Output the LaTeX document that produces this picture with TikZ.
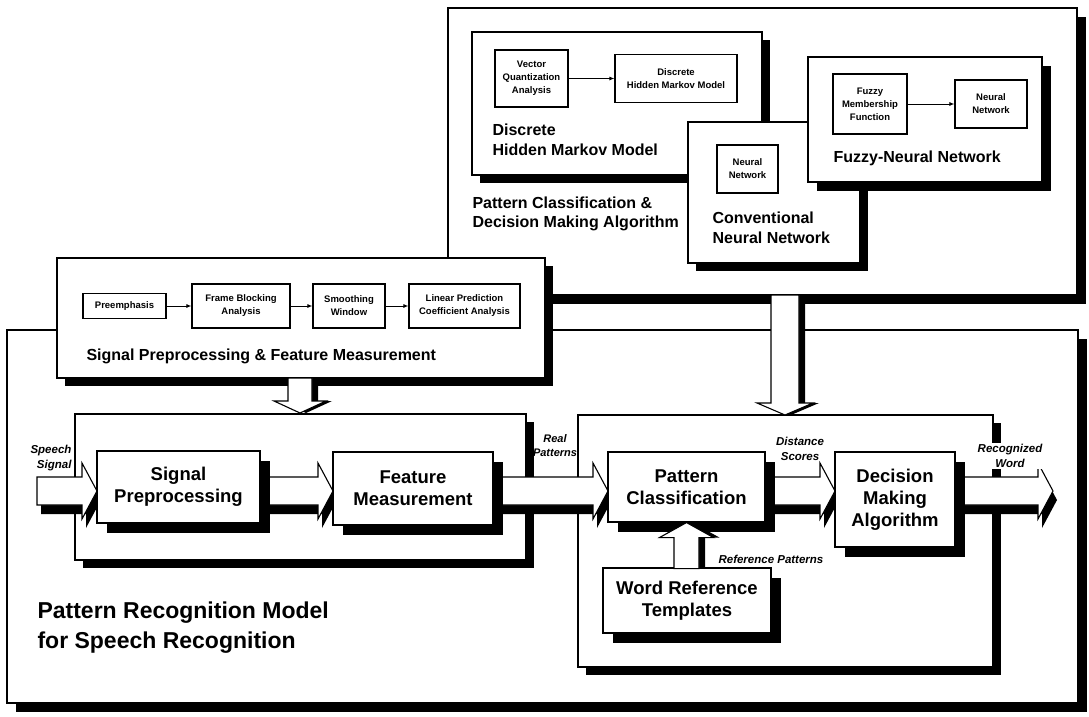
\documentclass[tikz,border=0pt]{standalone}
\usepackage{fontspec}
\setmainfont{Liberation Sans}
\usetikzlibrary{arrows.meta,shadows}

\begin{document}
\begin{tikzpicture}[x=1pt,y=-1pt,line width=1.1pt,
  panel/.style={draw, fill=white, inner sep=0pt, drop shadow={shadow xshift=#1pt, shadow yshift=-#1pt, fill=black, opacity=1}},
  panel/.default=9,
  unit/.style={draw, fill=white, inner sep=1pt, align=center, font=\bfseries\fontsize{9.5}{13}\selectfont},
  block/.style={draw, fill=white, inner sep=0pt, align=center, font=\bfseries\fontsize{18.5}{22}\selectfont, drop shadow={shadow xshift=10pt, shadow yshift=-10pt, fill=black, opacity=1}},
  ribbon/.style={draw, fill=white, drop shadow={shadow xshift=4pt, shadow yshift=-9pt, fill=black, opacity=1}},
  bigarrow/.style={draw, fill=white, drop shadow={shadow xshift=6pt, shadow yshift=0pt, fill=black, opacity=1}},
  heading/.style={inner sep=0pt, align=left, font=\bfseries\fontsize{16}{20}\selectfont},
  tag/.style={inner sep=0pt, align=center, font=\bfseries\itshape\fontsize{11.5}{15}\selectfont},
  flow/.style={-{Latex[length=5pt,width=4pt]}, line width=1pt}]
\useasboundingbox (0,0) rectangle (1089,716);

\node[panel, minimum width=1071pt, minimum height=373pt] (prm) at (542.5,516.5) {};
\node[panel, minimum width=629pt, minimum height=287pt] (pcd) at (762.5,151.5) {};

\node[panel=8, minimum width=290pt, minimum height=143pt] (dhmm) at (617,103.5) {};
\node[unit, minimum width=73pt, minimum height=57pt] (vqa) at (531.5,78.5) {Vector\\Quantization\\Analysis};
\node[unit, minimum width=122pt, minimum height=48pt] (hmm) at (676,78.5) {Discrete\\Hidden Markov Model};
\draw[flow] (vqa) -- (hmm);
\node[heading, anchor=west] (dhmmlbl) at (492,140) {Discrete\\Hidden Markov Model};

\node[panel=8, minimum width=172pt, minimum height=141pt] (cnn) at (774,192.5) {};
\node[unit, minimum width=61pt, minimum height=48pt] (cnnunit) at (747.5,169) {Neural\\Network};
\node[heading, anchor=west] (cnnlbl) at (712,228) {Conventional\\Neural Network};

\node[panel, minimum width=234pt, minimum height=125pt] (fnn) at (925,119.5) {};
\node[unit, minimum width=74pt, minimum height=60pt] (fmf) at (870,104) {Fuzzy\\Membership\\Function};
\node[unit, minimum width=72pt, minimum height=48pt] (fnnunit) at (991,104) {Neural\\Network};
\draw[flow] (fmf) -- (fnnunit);
\node[heading, anchor=west] (fnnlbl) at (833,158) {Fuzzy-Neural Network};

\node[heading, anchor=west, font=\bfseries\fontsize{16}{19}\selectfont] (pcdlbl) at (472,214) {Pattern Classification \&\\Decision Making Algorithm};

\node[panel=8, minimum width=488pt, minimum height=120pt] (spfm) at (301,318) {};
\node[unit, minimum width=83pt, minimum height=25pt] (pre) at (124.5,306) {Preemphasis};
\node[unit, minimum width=98pt, minimum height=44pt] (fba) at (241,306) {Frame Blocking\\Analysis};
\node[unit, minimum width=72pt, minimum height=44pt] (sw) at (349,306) {Smoothing\\Window};
\node[unit, minimum width=111pt, minimum height=44pt] (lpc) at (464.5,306) {Linear Prediction\\Coefficient Analysis};
\draw[flow] (pre) -- (fba);
\draw[flow] (fba) -- (sw);
\draw[flow] (sw) -- (lpc);
\node[heading, anchor=west] (spfmlbl) at (86,356) {Signal Preprocessing \& Feature Measurement};

\node[panel=8, minimum width=451pt, minimum height=146pt] (front) at (300.5,487) {};
\node[panel=8, minimum width=415pt, minimum height=252pt] (back) at (785.5,541) {};

\coordinate (tipA) at (785,415);
\coordinate (tipB) at (300,413);
\draw[bigarrow] (tipA) -- ++(-28,-12) -- ++(14,0) -- ++(0,-108) -- ++(28,0) -- ++(0,108) -- ++(14,0) -- cycle;
\draw[bigarrow] (tipB) -- ++(-26,-12) -- ++(14,0) -- ++(0,-23) -- ++(24,0) -- ++(0,23) -- ++(14,0) -- cycle;

\coordinate (spin) at (97,491);
\coordinate (fmin) at (333,491);
\coordinate (pcin) at (608,491);
\coordinate (dmin) at (835,491);
\coordinate (out) at (1053,491);
\draw[ribbon] (spin) -- ++(-15,-28) -- ++(0,14) -- ++(-45,0) -- ++(0,28) -- ++(45,0) -- ++(0,14) -- cycle;
\draw[ribbon] (fmin) -- ++(-15,-28) -- ++(0,14) -- ++(-68,0) -- ++(0,28) -- ++(68,0) -- ++(0,14) -- cycle;
\draw[ribbon] (pcin) -- ++(-15,-28) -- ++(0,14) -- ++(-110,0) -- ++(0,28) -- ++(110,0) -- ++(0,14) -- cycle;
\draw[ribbon] (dmin) -- ++(-15,-28) -- ++(0,14) -- ++(-65,0) -- ++(0,28) -- ++(65,0) -- ++(0,14) -- cycle;
\draw[ribbon] (out) -- ++(-15,-28) -- ++(0,14) -- ++(-93,0) -- ++(0,28) -- ++(93,0) -- ++(0,14) -- cycle;

\node[block, minimum width=163pt, minimum height=72pt] (sp) at (178.5,487) {Signal\\Preprocessing};
\node[block, minimum width=160pt, minimum height=73pt] (fm) at (413,488.5) {Feature\\Measurement};
\node[block, minimum width=157pt, minimum height=70pt] (pc) at (686.5,487) {Pattern\\Classification};
\node[block, minimum width=120pt, minimum height=95pt] (dm) at (895,499.5) {Decision\\Making\\Algorithm};
\node[block, minimum width=168pt, minimum height=65pt] (wrt) at (687,600.5) {Word Reference\\Templates};
\draw[bigarrow] (pc.south) -- ++(27,15) -- ++(-14.5,0) -- ++(0,31) -- ++(-25,0) -- ++(0,-31) -- ++(-14.5,0) -- cycle;

\node[tag, anchor=east, align=right] (speech) at (72,458) {Speech\\Signal};
\node[tag, font=\bfseries\itshape\fontsize{11}{14}\selectfont] (real) at (555,446) {Real\\Patterns};
\node[tag] (dist) at (800,449) {Distance\\Scores};
\node[tag, fill=white, inner sep=1pt] (recw) at (1010,456) {Recognized\\Word};
\node[tag, anchor=west] (refp) at (718,559) {Reference Patterns};
\node[inner sep=0pt, anchor=west, align=left, font=\bfseries\fontsize{23}{30}\selectfont] (title) at (37,628) {Pattern Recognition Model\\for Speech Recognition};
\end{tikzpicture}
\end{document}
